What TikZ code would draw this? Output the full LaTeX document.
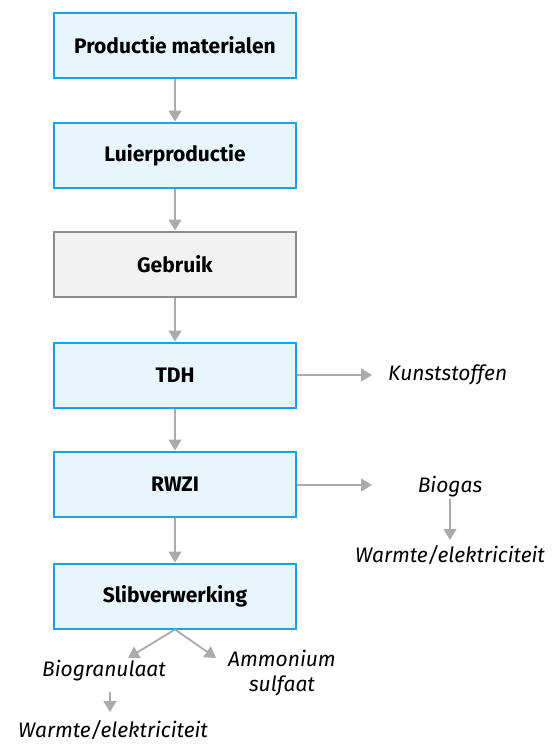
\documentclass[tikz,border=0pt]{standalone}
\usepackage{fontspec}
\setmainfont{Fira Sans}
\usetikzlibrary{arrows.meta}
\definecolor{boxblue}{HTML}{1BA1DD}
\definecolor{boxfill}{HTML}{E8F5FC}
\definecolor{greyfill}{HTML}{F2F2F2}
\definecolor{greyline}{HTML}{8C8C8C}
\definecolor{arrowgrey}{HTML}{ABABAB}
\begin{document}
\begin{tikzpicture}[x=1pt,y=-1pt,
  stepbox/.style={draw=boxblue,fill=boxfill,line width=2pt,minimum width=242pt,minimum height=65pt,font=\fontsize{21}{25}\selectfont\bfseries},
  usebox/.style={stepbox,draw=greyline,fill=greyfill},
  outtext/.style={font=\fontsize{21}{25}\selectfont\itshape,align=center,inner sep=1pt},
  flow/.style={draw=arrowgrey,line width=1.8pt,-{Triangle[width=13pt,length=11pt]}}]
\useasboundingbox (0,0) rectangle (552,745);
\node[stepbox] (pm) at (175,45) {Productie materialen};
\node[stepbox] (lp) at (175,155) {Luierproductie};
\node[usebox] (gb) at (175,264) {Gebruik};
\node[stepbox] (tdh) at (175,375) {TDH};
\node[stepbox] (rwzi) at (175,484) {RWZI};
\node[stepbox] (slib) at (175,596) {Slibverwerking};
\node[outtext,anchor=west] (kunst) at (387,375) {Kunststoffen};
\node[outtext] (biogas) at (450,487) {Biogas};
\node[outtext] (we1) at (450,555) {Warmte/elektriciteit};
\node[outtext] (bgr) at (104,671) {Biogranulaat};
\node[outtext] (amm) at (282,673) {Ammonium\\sulfaat};
\node[outtext] (we2) at (113,730) {Warmte/elektriciteit};
\coordinate (kt) at (372,375);
\coordinate (bt) at (372,485);
\coordinate (bgt) at (128,658);
\coordinate (amt) at (216,658);
\coordinate (wt) at (450,540);
\coordinate (bg2s) at (110,692);
\coordinate (wt2) at (110,712);
\draw[flow] (pm) -- (lp);
\draw[flow] (lp) -- (gb);
\draw[flow] (gb) -- (tdh);
\draw[flow] (tdh) -- (rwzi);
\draw[flow] (rwzi) -- (slib);
\draw[flow] (tdh.east) -- (kt);
\draw[flow] (rwzi.east |- bt) -- (bt);
\draw[flow] (biogas.south) -- (wt);
\draw[flow] (slib.south) -- (bgt);
\draw[flow] (slib.south) -- (amt);
\draw[flow] (bg2s) -- (wt2);
\end{tikzpicture}
\end{document}
